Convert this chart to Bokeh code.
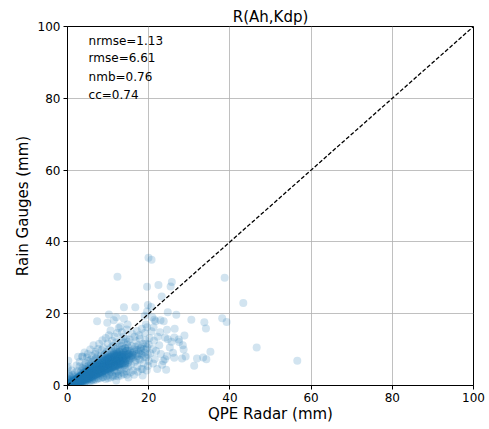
from bokeh.plotting import figure
from bokeh.models import Label, FixedTicker
from bokeh.embed import file_html
from bokeh.resources import INLINE

# ---------------- data ----------------
title_text = "R(Ah,Kdp)"
x_label = "QPE Radar (mm)"
y_label = "Rain Gauges (mm)"
tick_values = [0, 20, 40, 60, 80, 100]
stats_text = ["nrmse=1.13", "rmse=6.61", "nmb=0.76", "cc=0.74"]
stats_y = [95.9, 91.1, 86.0, 80.9]
diag_x = [0, 100]
diag_y = [0, 100]

radar = [
    # x 0-3
    0.1, 0.2, 0.3, 0.4, 0.5, 0.6, 0.7, 0.8, 0.9, 1.0, 1.1, 1.2, 1.3, 1.4, 1.5, 1.6, 1.7, 1.8, 1.9, 2.0,
    2.1, 2.2, 2.3, 2.4, 2.5, 2.6, 2.7, 2.8, 2.9, 3.0,
    0.2, 0.5, 0.3, 0.8, 1.2, 0.6, 1.5, 2.0, 2.4, 2.8, 1.0, 1.6, 2.2, 2.6, 3.0, 0.1, 0.4, 1.8, 0.1, 0.0,
    0.3, 0.7, 1.1, 1.4, 1.9, 2.3, 2.7, 1.3, 0.9, 2.5,
    # x 3-6
    3.1, 3.2, 3.3, 3.4, 3.5, 3.6, 3.7, 3.8, 3.9, 4.0, 4.1, 4.2, 4.3, 4.4, 4.5, 4.6, 4.7, 4.8, 4.9, 5.0,
    5.1, 5.2, 5.3, 5.4, 5.5, 5.6, 5.7, 5.8, 5.9, 6.0,
    3.2, 3.5, 3.8, 4.0, 4.3, 4.6, 4.9, 5.2, 5.5, 5.8, 3.6, 4.2, 4.8, 5.4, 5.9, 3.4, 3.9, 4.4, 4.9, 5.3,
    5.7, 6.0, 3.7, 4.5, 5.1, 3.0, 4.1, 5.6, 6.0, 4.7,
    # x 6-9
    6.1, 6.2, 6.3, 6.4, 6.5, 6.6, 6.7, 6.8, 6.9, 7.0, 7.1, 7.2, 7.3, 7.4, 7.5, 7.6, 7.7, 7.8, 7.9, 8.0,
    8.1, 8.2, 8.3, 8.4, 8.5, 8.6, 8.7, 8.8, 8.9, 9.0,
    6.2, 6.6, 7.0, 7.4, 7.8, 8.2, 8.6, 9.0, 6.4, 7.0, 7.6, 8.2, 8.8, 6.3, 6.8, 7.2, 7.7, 8.1, 8.5, 8.9,
    6.5, 7.3, 8.0, 8.7, 6.0, 6.9, 7.5, 8.4, 7.3, 8.8,
    # x 9-12
    9.1, 9.2, 9.3, 9.4, 9.5, 9.6, 9.7, 9.8, 9.9, 10.0, 10.1, 10.2, 10.3, 10.4, 10.5, 10.6, 10.7, 10.8, 10.9, 11.0,
    11.1, 11.2, 11.3, 11.4, 11.5, 11.6, 11.7, 11.8, 11.9, 12.0,
    9.2, 9.7, 10.2, 10.7, 11.2, 11.7, 9.4, 10.0, 10.6, 11.2, 11.8, 12.0, 9.3, 9.8, 10.3, 10.8, 11.3, 11.8, 9.6, 10.1,
    10.9, 11.5, 9.9, 10.6, 9.8, 11.4, 11.0, 12.0, 9.5, 10.5,
    # x 12-15
    12.1, 12.2, 12.3, 12.4, 12.5, 12.6, 12.7, 12.8, 12.9, 13.0, 13.1, 13.2, 13.3, 13.4, 13.5, 13.6, 13.7, 13.8, 13.9, 14.0,
    14.1, 14.2, 14.3, 14.4, 14.5, 14.6, 14.7, 14.8, 14.9, 15.0,
    12.3, 12.8, 13.3, 13.8, 14.4, 14.9, 12.5, 13.2, 13.9, 14.5, 15.0, 12.4, 12.9, 13.4, 13.9, 14.3, 14.8, 12.2, 13.4, 13.9,
    13.9, 12.3, 14.6, 15.0, 12.7, 13.6, 14.2, 12.0, 13.0, 14.8,
    # x 15-20
    15.2, 15.4, 15.6, 15.8, 16.0, 16.2, 16.4, 16.6, 16.8, 17.0, 17.2, 17.4, 17.6, 17.8, 18.0, 18.2, 18.4, 18.6, 18.8, 19.0,
    19.2, 19.4, 19.6, 19.8, 20.0,
    15.3, 15.9, 16.5, 17.1, 17.7, 18.3, 19.0, 19.6, 15.5, 16.4, 17.3, 18.5, 19.5, 16.1, 16.9, 17.5, 18.1, 18.9, 19.3, 15.7,
    16.7, 17.9, 19.8, 20.0, 16.7,
    # sparse outliers
    19.95, 20.7, 38.7, 43.3, 46.6, 22.4, 25.7, 25.4, 19.6, 23.2, 19.8, 20.6, 19.6, 24.7, 26.8, 30.5, 33.7, 34.1, 38.1, 39.2,
    35.2, 34.2, 33.4, 31.9, 31.2, 29.1, 28.2, 28.6, 28.4, 27.5, 27.4, 26.3, 28.8, 26.4, 24.5, 23.7, 22.9, 21.4, 25.6, 24.7,
    24.0, 25.2, 26.0, 26.3, 24.5, 24.0, 23.6, 23.3, 24.3, 22.1, 21.1, 18.5, 20.4, 21.0, 21.3, 20.7, 19.3, 19.0, 21.7, 20.9,
    56.6, 21.8, 22.6, 23.0, 22.2, 21.5, 20.2, 22.8, 21.2,
    # near the gauge axis
    0.2, 2.6, 3.7, 3.6, 4.8, 2.4, 1.1,
    # extra dense core
    0.2, 0.4, 0.6, 0.8, 1.0, 1.2, 1.4, 1.6, 1.8, 2.0, 2.2, 2.4, 2.6, 2.8, 3.0, 3.2, 3.4, 3.6, 3.8, 4.0,
    4.2, 4.4, 4.6, 4.8, 5.0, 5.2, 5.4, 5.6, 5.8, 6.0, 0.5, 1.3, 2.0, 0.0, 0.0, 0.1, 3.3, 4.5, 5.5, 6.5,
    # core band, second pass
    1.5, 2.1, 2.7, 3.1, 3.5, 3.9, 4.3, 4.7, 5.1, 5.5, 5.9, 6.3, 6.7, 7.1, 7.5, 7.9, 8.3, 8.7, 9.1, 9.5,
    9.9, 10.3, 10.7, 11.1, 11.5, 11.9, 12.3, 12.7, 13.1, 13.5, 13.9, 14.3, 14.7, 15.1, 15.5,
    2.3, 3.0, 3.7, 4.4, 5.1, 5.8, 6.5, 7.2, 7.9, 8.6, 9.3, 10.0, 10.7, 11.4, 12.1, 12.8, 13.5, 14.2,
    2.0, 2.8, 3.6, 4.4, 5.2, 6.0, 6.8, 7.6, 8.4, 9.2, 10.0, 10.8, 11.6, 12.4, 13.2, 14.0, 14.8, 15.6,
    1.2, 1.9, 2.5, 3.3, 4.1, 4.9, 5.7, 6.1, 6.9, 7.7, 8.5, 9.0, 9.7, 10.4, 11.0, 11.8, 12.6, 13.3, 14.0, 14.6,
    3.4, 4.6, 5.4, 6.2, 7.0, 7.8, 8.6, 9.4, 10.2, 11.0, 11.8, 12.6, 13.4, 14.2, 15.0,
    0.6, 0.9, 1.1, 1.3, 1.7, 2.1, 2.4, 2.9, 3.2, 3.5, 3.8, 4.2, 4.6, 5.0, 5.3, 5.7, 6.1, 6.6, 7.0, 7.4,
    7.8, 8.2, 8.8, 9.4, 10.0, 10.6, 11.2, 11.8, 12.4, 13.0, 13.6, 14.4, 15.2, 16.0,
    16.4, 17.0, 17.6, 18.2, 18.8, 19.4, 16.2, 17.2, 18.0,
    # core band, third pass
    1.0, 1.4, 1.8, 2.2, 2.6, 3.0, 3.4, 3.8, 4.2, 4.6, 5.0, 5.4, 5.8, 6.2, 6.6, 7.0, 7.4, 7.8, 8.2, 8.6,
    9.0, 9.4, 9.8, 10.2, 10.6, 11.0, 11.4, 11.8, 12.2, 12.6,
    1.2, 1.6, 2.0, 2.4, 2.8, 3.2, 3.6, 4.0, 4.4, 4.8, 5.2, 5.6, 6.0, 6.4, 6.8, 7.2, 7.6, 8.0, 8.4, 8.8,
    9.2, 9.6, 10.0, 10.4, 10.8, 11.2, 11.6, 12.0, 12.4, 12.8,
    1.4, 1.8, 2.2, 2.6, 3.0, 3.4, 3.8, 4.2, 4.6, 5.0, 5.4, 5.8, 6.2, 6.6, 7.0, 7.4, 7.8, 8.2, 8.6, 9.0,
    9.4, 9.8, 10.2, 10.6, 11.0, 11.4, 11.8, 12.2, 12.6, 13.0,
    0.4, 0.8, 1.2, 1.6, 2.0, 2.4, 2.8, 3.2, 3.6, 4.0, 4.4, 4.8, 5.2, 5.6, 6.0, 6.4, 6.8, 7.2, 7.6, 8.0,
    8.4, 8.8, 9.2, 9.6, 10.0,
    # light points above the diagonal
    2.2, 3.0, 4.2, 5.6, 6.4, 7.8, 8.6, 9.4, 10.2, 11.6, 12.6, 12.0, 10.2, 5.0, 6.8, 1.2, 0.3, 0.2,
    # core band, fourth pass
    0.3, 0.7, 1.1, 1.5, 1.9, 2.3, 2.7, 3.1, 3.5, 3.9, 4.3, 4.7, 5.1, 5.5, 5.9, 6.3, 6.7, 7.1, 7.5, 7.9,
    8.3, 8.7, 9.1, 9.5, 9.9, 10.3, 10.7, 11.1, 11.5, 11.9, 12.3, 12.7, 13.1, 13.5, 13.9,
    # core band, fifth pass
    0.5, 0.9, 1.3, 1.7, 2.1, 2.5, 2.9, 3.3, 3.7, 4.1, 4.5, 4.9, 5.3, 5.7, 6.1, 6.5, 6.9, 7.3, 7.7, 8.1,
    8.5, 8.9, 9.3, 9.7, 10.1, 10.5, 10.9, 11.3, 11.7, 12.1, 12.5, 12.9, 13.3, 13.7, 14.1,
    # core band, sixth pass
    0.6, 1.0, 1.4, 1.8, 2.2, 2.6, 3.0, 3.4, 3.8, 4.2, 4.6, 5.0, 5.4, 5.8, 6.2, 6.6, 7.0, 7.4, 7.8, 8.2,
    8.6, 9.0, 9.4, 9.8, 10.2, 10.6, 11.0, 11.4, 11.8, 12.2,
    # core band, seventh pass
    0.8, 1.6, 2.4, 3.2, 4.0, 4.8, 5.6, 6.4, 7.2, 8.0, 8.8, 9.6, 10.4, 11.2, 12.0, 12.8, 13.6, 14.4, 15.2, 16.0,
]

gauge = [
    # x 0-3
    0.1, 0.3, 0.1, 0.5, 0.2, 0.8, 0.3, 0.6, 0.1, 0.9, 0.4, 0.7, 0.2, 1.1, 0.5, 0.9, 0.3, 1.3, 0.7, 1.0,
    0.4, 1.5, 0.8, 1.2, 0.5, 1.7, 0.9, 1.4, 0.6, 2.0,
    0.6, 1.2, 1.8, 1.5, 2.1, 2.6, 1.8, 2.4, 2.8, 2.2, 0.2, 0.1, 0.2, 0.3, 0.4, 1.0, 3.2, 3.5, 2.1, 4.8,
    0.4, 0.7, 1.0, 0.6, 1.6, 1.9, 2.5, 1.4, 1.1, 1.1,
    # x 3-6
    1.2, 2.5, 0.8, 1.9, 3.0, 1.5, 2.2, 0.9, 2.8, 1.8, 3.4, 2.3, 1.1, 2.9, 3.8, 2.0, 1.4, 3.2, 2.6, 4.1,
    1.7, 3.0, 2.2, 3.6, 4.5, 1.9, 2.8, 3.3, 4.0, 2.5,
    3.6, 4.2, 3.5, 4.6, 4.0, 5.2, 4.7, 5.5, 5.0, 6.0, 0.5, 0.7, 0.9, 1.1, 1.3, 2.6, 2.0, 1.8, 3.5, 2.7,
    3.7, 4.8, 4.9, 6.2, 6.8, 5.3, 5.7, 7.2, 1.6, 2.4,
    # x 6-9
    3.2, 4.5, 2.4, 5.1, 3.8, 1.8, 4.2, 5.6, 3.0, 4.8, 2.6, 6.0, 3.9, 5.2, 2.1, 4.4, 6.5, 3.5, 5.0, 4.0,
    2.8, 5.8, 4.6, 3.3, 6.3, 5.0, 2.4, 4.2, 7.0, 5.4,
    6.6, 7.0, 7.5, 8.0, 7.4, 8.3, 7.8, 8.6, 1.4, 1.6, 1.9, 2.0, 2.3, 3.6, 4.0, 3.4, 4.8, 5.2, 4.4, 5.9,
    5.7, 6.3, 6.8, 6.2, 8.2, 9.4, 10.2, 9.8, 17.9, 10.5,
    # x 9-12
    4.5, 6.2, 3.4, 7.0, 5.1, 2.6, 6.6, 4.0, 7.6, 5.5, 3.0, 6.8, 4.6, 8.0, 5.9, 3.7, 7.2, 5.0, 8.6, 6.4,
    2.8, 7.5, 5.3, 9.0, 6.8, 4.2, 8.2, 5.8, 3.5, 7.0,
    8.8, 9.4, 10.0, 10.6, 11.0, 10.2, 1.8, 2.0, 2.2, 2.5, 2.7, 1.4, 5.6, 6.0, 5.2, 6.6, 7.9, 6.5, 7.8, 8.6,
    9.4, 8.7, 11.8, 15.3, 17.5, 18.2, 12.5, 9.6, 4.8, 4.2,
    # x 12-15
    5.5, 8.2, 4.0, 9.0, 6.6, 3.2, 7.8, 5.0, 10.0, 7.0, 4.4, 8.6, 6.0, 11.0, 7.6, 3.6, 9.2, 5.6, 12.0, 8.0,
    4.8, 10.4, 6.8, 9.6, 7.4, 3.0, 11.4, 6.2, 8.8, 5.2,
    10.8, 11.6, 12.6, 13.6, 13.0, 12.2, 2.6, 2.8, 3.2, 4.0, 2.2, 7.2, 6.2, 8.2, 7.2, 8.4, 9.8, 14.6, 14.8, 18.6,
    21.8, 30.3, 15.6, 10.6, 9.4, 10.2, 5.8, 12.0, 16.4, 17.0,
    # x 15-20
    7.2, 9.6, 5.8, 11.0, 8.0, 4.2, 10.2, 6.6, 12.4, 8.8, 5.2, 9.8, 7.4, 13.0, 10.4, 4.6, 8.4, 11.6, 6.2, 9.2,
    12.6, 7.8, 10.6, 5.4, 11.4,
    12.8, 14.4, 13.6, 15.2, 14.0, 15.8, 14.6, 16.2, 3.6, 3.0, 3.8, 2.8, 4.2, 9.0, 7.0, 11.2, 9.6, 8.0, 10.0, 8.2,
    10.8, 7.2, 8.6, 6.8, 21.8,
    # sparse outliers
    35.6, 35.0, 30.0, 23.0, 10.6, 28.0, 28.8, 27.6, 27.5, 24.8, 22.4, 21.9, 20.6, 20.4, 19.7, 18.3, 17.6, 15.9, 18.7, 17.7,
    9.4, 7.3, 7.8, 7.5, 5.5, 8.1, 7.5, 10.0, 11.2, 12.1, 12.8, 13.4, 13.9, 15.8, 15.5, 17.9, 18.2, 18.3, 12.2, 12.9,
    13.4, 10.6, 9.1, 7.7, 8.2, 7.3, 6.8, 5.8, 4.4, 4.6, 6.1, 4.6, 9.0, 10.2, 12.5, 15.1, 17.0, 19.4, 17.9, 19.0,
    6.9, 9.6, 11.2, 8.8, 13.6, 7.4, 13.2, 14.8, 16.2,
    # near the gauge axis
    6.9, 8.0, 8.0, 8.1, 7.9, 4.0, 4.2,
    # extra dense core
    0.2, 0.2, 0.4, 0.3, 0.6, 0.4, 0.9, 0.5, 0.8, 0.6, 1.1, 0.7, 1.3, 1.0, 1.5, 1.0, 1.6, 1.2, 1.9, 1.3,
    2.0, 1.5, 2.5, 1.9, 2.6, 2.0, 2.9, 2.4, 3.0, 3.3, 0.0, 0.0, 0.1, 0.5, 1.5, 0.3, 2.1, 2.8, 3.4, 4.4,
    # core band, second pass
    0.8, 1.2, 1.6, 1.8, 2.0, 2.3, 2.5, 2.8, 3.0, 3.2, 3.5, 3.7, 3.9, 4.2, 4.4, 4.6, 4.9, 5.1, 5.3, 5.6,
    5.8, 6.0, 6.3, 6.5, 6.7, 7.0, 7.2, 7.4, 7.7, 7.9, 8.1, 8.4, 8.6, 8.8, 9.1,
    1.7, 2.4, 2.9, 3.4, 3.9, 4.4, 4.9, 5.4, 5.9, 6.4, 6.9, 7.4, 7.9, 8.4, 8.9, 9.4, 9.9, 10.4,
    0.7, 1.1, 1.4, 1.9, 2.3, 2.7, 3.1, 3.5, 3.9, 4.3, 4.7, 5.1, 5.5, 5.9, 6.3, 6.7, 7.1, 7.5,
    0.9, 1.4, 2.0, 2.7, 3.1, 3.7, 4.1, 4.7, 5.2, 5.7, 6.0, 6.6, 7.1, 7.6, 8.0, 8.5, 8.2, 8.8, 9.2, 9.6,
    1.0, 1.6, 1.8, 2.2, 2.9, 3.2, 3.6, 4.0, 4.4, 4.8, 5.2, 5.6, 5.8, 6.2, 6.6,
    0.5, 0.7, 0.3, 1.0, 1.1, 0.9, 1.5, 1.3, 1.6, 1.2, 2.6, 1.7, 3.0, 2.1, 3.5, 2.6, 3.0, 3.4, 3.8, 4.6,
    4.1, 4.4, 4.7, 5.0, 5.2, 5.6, 6.0, 6.2, 6.6, 6.9, 7.1, 7.6, 8.0, 8.6,
    9.4, 10.0, 9.0, 10.8, 10.2, 11.6, 7.8, 8.2, 8.8,
    # core band, third pass
    0.5, 0.8, 1.0, 1.3, 1.4, 1.7, 2.0, 2.1, 2.4, 2.6, 2.9, 3.1, 3.4, 3.5, 3.8, 4.0, 4.3, 4.5, 4.7, 5.0,
    5.2, 5.4, 5.7, 5.9, 6.1, 6.4, 6.6, 6.8, 7.1, 7.3,
    0.6, 1.1, 1.1, 1.6, 1.8, 2.2, 2.4, 2.7, 3.0, 3.3, 3.6, 3.9, 4.1, 4.4, 4.7, 5.0, 5.2, 5.5, 5.8, 6.0,
    6.3, 6.6, 6.8, 7.1, 7.4, 7.6, 7.9, 8.1, 8.4, 8.6,
    0.5, 0.7, 0.9, 1.0, 1.2, 1.4, 1.6, 1.8, 2.0, 2.2, 2.4, 2.6, 2.8, 3.0, 3.2, 3.4, 3.6, 3.8, 4.0, 4.2,
    4.4, 4.6, 4.8, 5.0, 5.2, 5.4, 5.6, 5.8, 6.0, 6.2,
    0.4, 0.8, 1.2, 1.4, 1.8, 2.1, 2.4, 2.8, 3.1, 3.4, 3.7, 4.0, 4.3, 4.6, 5.0, 5.3, 5.6, 5.9, 6.2, 6.5,
    6.8, 7.1, 7.4, 7.7, 8.0,
    # light points above the diagonal
    5.6, 6.6, 9.2, 10.0, 11.2, 11.6, 12.6, 13.2, 14.0, 13.6, 16.0, 19.0, 19.8, 8.8, 8.8, 3.0, 2.8, 5.2,
    # core band, fourth pass
    0.3, 0.4, 0.8, 0.9, 1.1, 1.5, 1.6, 2.0, 2.1, 2.5, 2.6, 3.0, 3.1, 3.5, 3.6, 4.0, 4.1, 4.5, 4.6, 5.0,
    5.1, 5.5, 5.6, 6.0, 6.1, 6.5, 6.6, 7.0, 7.1, 7.5, 7.6, 8.0, 8.1, 8.5, 8.6,
    # core band, fifth pass
    0.1, 0.5, 0.5, 0.9, 0.8, 1.2, 1.2, 1.6, 1.6, 1.9, 1.9, 2.3, 2.3, 2.7, 2.6, 3.0, 3.0, 3.4, 3.4, 3.7,
    3.7, 4.1, 4.1, 4.5, 4.4, 4.8, 4.8, 5.2, 5.2, 5.5, 5.5, 5.9, 5.9, 6.3, 6.2,
    # core band, sixth pass
    0.4, 0.9, 1.0, 1.5, 1.6, 2.1, 2.2, 2.7, 2.8, 3.3, 3.4, 3.9, 4.0, 4.5, 4.6, 5.1, 5.2, 5.7, 5.8, 6.3,
    6.4, 6.9, 7.0, 7.5, 7.6, 8.1, 8.2, 8.7, 8.8, 9.3,
    # core band, seventh pass
    0.6, 0.7, 1.5, 1.6, 2.4, 2.5, 3.3, 3.3, 4.1, 4.2, 5.0, 5.1, 5.9, 5.9, 6.8, 6.8, 7.7, 7.7, 8.6, 8.6,
]

# ---------------- figure ----------------
FONT = "DejaVu Sans"

p = figure(
    width=489, height=429,
    x_range=(0, 100), y_range=(0, 100),
    output_backend="svg", toolbar_location=None,
    min_border_left=67, min_border_right=16, min_border_top=26, min_border_bottom=44,
)
p.background_fill_color = "white"
p.border_fill_color = "white"
p.outline_line_color = "black"
p.outline_line_width = 1
p.outline_line_alpha = 1

p.title.text = title_text
p.title.align = "center"
p.title.text_font = FONT
p.title.text_font_size = "15px"
p.title.text_font_style = "normal"
p.title.text_color = "black"
p.title.standoff = 2

for ax in (p.xaxis[0], p.yaxis[0]):
    ax.ticker = FixedTicker(ticks=tick_values)
    ax.minor_tick_line_color = None
    ax.major_tick_in = 0
    ax.major_tick_out = 4
    ax.axis_line_color = "black"
    ax.major_tick_line_color = "black"
    ax.major_label_text_font = FONT
    ax.major_label_text_font_size = "12px"
    ax.major_label_text_color = "black"
    ax.axis_label_text_font = FONT
    ax.axis_label_text_font_size = "15px"
    ax.axis_label_text_font_style = "normal"
    ax.axis_label_text_color = "black"

p.xaxis.axis_label = x_label
p.yaxis.axis_label = y_label
p.xaxis.major_label_standoff = 3
p.yaxis.major_label_standoff = 3
p.xaxis.axis_label_standoff = 0
p.yaxis.axis_label_standoff = 3

p.grid.grid_line_color = "#b0b0b0"
p.grid.grid_line_alpha = 0.8
p.grid.grid_line_width = 1
p.xgrid.ticker = FixedTicker(ticks=tick_values)
p.ygrid.ticker = FixedTicker(ticks=tick_values)

p.scatter(radar, gauge, size=8, fill_color="#1f77b4", fill_alpha=0.2, line_color=None)

p.line(diag_x, diag_y, line_color="black", line_width=1.3, line_dash="4 2")

for t, yy in zip(stats_text, stats_y):
    p.add_layout(Label(x=5.2, y=yy, text=t, text_align="left", text_baseline="middle",
                       text_font=FONT, text_font_size="12px", text_color="black"))

open("out.html", "w").write(file_html(p, INLINE))
